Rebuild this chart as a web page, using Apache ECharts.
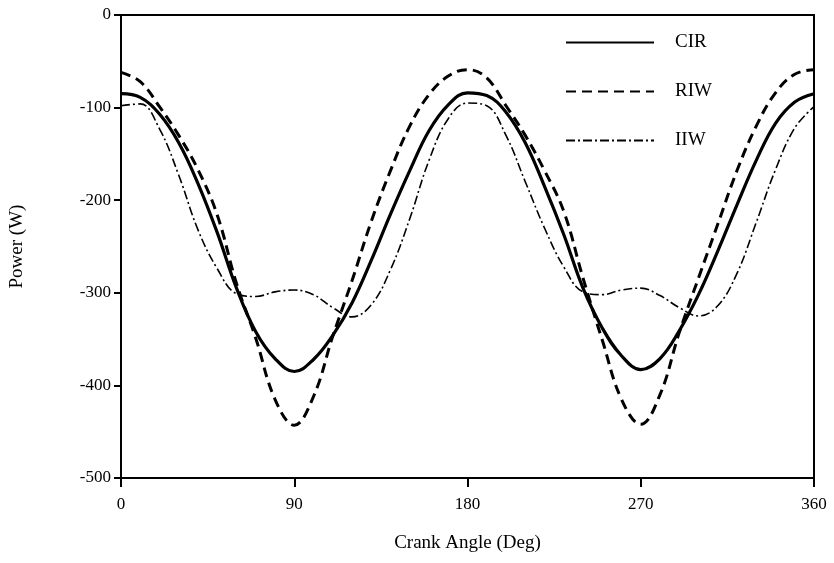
<!DOCTYPE html>
<html>
<head>
<meta charset="utf-8">
<script src="https://cdn.jsdelivr.net/npm/echarts@6/dist/echarts.min.js"></script>
<style>
  html, body { margin: 0; padding: 0; background: #fff; }
  #main { width: 834px; height: 563px; }
</style>
</head>
<body>
<div id="main"></div>
<script>
var myChart = echarts.init(document.getElementById('main'));

// crank angle, every 10 deg
var angles = [0, 10, 20, 30, 40, 50, 60, 70, 80, 90, 100, 110, 120, 130, 140, 150, 160, 170, 180,
              190, 200, 210, 220, 230, 240, 250, 260, 270, 280, 290, 300, 310, 320, 330, 340, 350, 360];

// power (W)
var cir = [-85, -89, -107, -138, -182, -235, -295, -342, -371, -385, -372, -346, -311, -265, -215, -168, -125, -97, -84,
           -87, -105, -138, -185, -237, -295, -338, -368, -383, -371, -341, -302, -255, -205, -157, -117, -94, -85];
var riw = [-62, -72, -99, -130, -167, -216, -290, -349, -415, -443, -412, -347, -287, -223, -168, -120, -86, -66, -59,
           -68, -98, -130, -168, -212, -284, -351, -415, -442, -410, -343, -284, -226, -168, -120, -84, -64, -59];
var iiw = [-98, -96, -123, -173, -232, -274, -301, -304, -299, -297, -302, -316, -326, -313, -275, -220, -157, -112, -95,
           -98, -130, -180, -230, -272, -299, -302, -297, -295, -303, -316, -325, -314, -279, -224, -167, -122, -99];

var xTicks = [0, 90, 180, 270, 360];
var yTicks = [0, -100, -200, -300, -400, -500];

var pairs = function (vals) {
    var res = [];
    for (var i = 0; i < angles.length; i++) {
        res.push([angles[i], vals[i]]);
    }
    return res;
};

var font = 'Liberation Serif';

option = {
    backgroundColor: '#fff',
    animation: false,
    grid: {
        left: 119,
        right: 20,
        top: 15,
        bottom: 85,
        show: true,
        borderColor: '#000',
        borderWidth: 2
    },
    legend: {
        orient: 'vertical',
        left: 560,
        top: 28,
        itemWidth: 88,
        itemHeight: 16,
        itemGap: 30,
        data: ['CIR', 'RIW', 'IIW'],
        itemStyle: { opacity: 0 },
        textStyle: {
            fontFamily: font,
            fontSize: 19,
            color: '#000',
            padding: [0, 0, 0, 16]
        }
    },
    xAxis: {
        type: 'value',
        min: xTicks[0],
        max: xTicks[xTicks.length - 1],
        interval: 90,
        name: 'Crank Angle (Deg)',
        nameLocation: 'middle',
        nameGap: 56,
        nameTextStyle: { fontFamily: font, fontSize: 19, color: '#000' },
        axisLine: { onZero: false, lineStyle: { color: '#000', width: 2 } },
        axisTick: { length: 9, lineStyle: { color: '#000', width: 2 } },
        axisLabel: { fontFamily: font, fontSize: 17, color: '#000', margin: 18 },
        splitLine: { show: false }
    },
    yAxis: {
        type: 'value',
        min: yTicks[yTicks.length - 1],
        max: yTicks[0],
        interval: 100,
        name: 'Power (W)',
        nameLocation: 'middle',
        nameGap: 94,
        nameTextStyle: { fontFamily: font, fontSize: 19, color: '#000' },
        axisLine: { onZero: false, lineStyle: { color: '#000', width: 2 } },
        axisTick: { length: 7, lineStyle: { color: '#000', width: 2 } },
        axisLabel: { fontFamily: font, fontSize: 17, color: '#000', margin: 10 },
        splitLine: { show: false }
    },
    series: [
        {
            name: 'CIR',
            type: 'line',
            data: pairs(cir),
            smooth: 0.4,
            symbol: 'none',
            lineStyle: { color: '#000', width: 3.2, type: 'solid' },
            itemStyle: { color: '#000' }
        },
        {
            name: 'RIW',
            type: 'line',
            data: pairs(riw),
            smooth: 0.4,
            symbol: 'none',
            lineStyle: { color: '#000', width: 3, type: [10, 6] },
            itemStyle: { color: '#000' }
        },
        {
            name: 'IIW',
            type: 'line',
            data: pairs(iiw),
            smooth: 0.4,
            symbol: 'none',
            lineStyle: { color: '#000', width: 1.6, type: [9, 3, 2, 3] },
            itemStyle: { color: '#000' }
        }
    ]
};

myChart.setOption(option);
</script>
</body>
</html>
